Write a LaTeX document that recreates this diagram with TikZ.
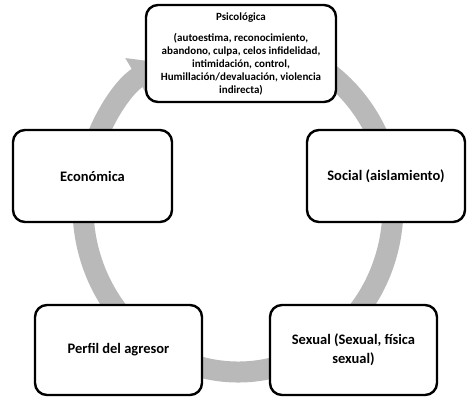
\documentclass[tikz,border=0pt]{standalone}
\usepackage{fontspec}
\setmainfont{Carlito}
\usetikzlibrary{arrows.meta}
\tikzset{
  box/.style={draw=black, line width=2.4pt, rounded corners=12pt, fill=white,
    inner sep=0pt, align=center, font=\fontsize{14.5}{19}\selectfont\bfseries},
  ring/.style={draw=gray!55, line width=21pt,
    -{Triangle[length=30pt,width=44pt]}}
}
\begin{document}
\begin{tikzpicture}[x=1pt,y=1pt]
\useasboundingbox (0,0) rectangle (467,399);
\coordinate (c) at (238,192);
% continuous cycle ring
\draw[ring] (c) ++(80:155 and 165) arc[start angle=80, end angle=-241, x radius=155, y radius=165];
% boxes
\node[box, minimum width=190pt, minimum height=97pt, font=\fontsize{11}{13}\selectfont\bfseries] (psi) at (241,345.5)
  {Psicológica\\[8pt](autoestima, reconocimiento,\\abandono, culpa, celos infidelidad,\\intimidación, control,\\Humillación/devaluación, violencia\\indirecta)};
\node[box, minimum width=159pt, minimum height=92pt] (eco) at (92.5,223) {Económica};
\node[box, minimum width=158pt, minimum height=92pt] (soc) at (386,223) {Social (aislamiento)};
\node[box, minimum width=167pt, minimum height=90pt] (per) at (118.5,49) {Perfil del agresor};
\node[box, minimum width=167pt, minimum height=90pt] (sex) at (353.5,49) {Sexual (Sexual, física\\sexual)};
\end{tikzpicture}
\end{document}
